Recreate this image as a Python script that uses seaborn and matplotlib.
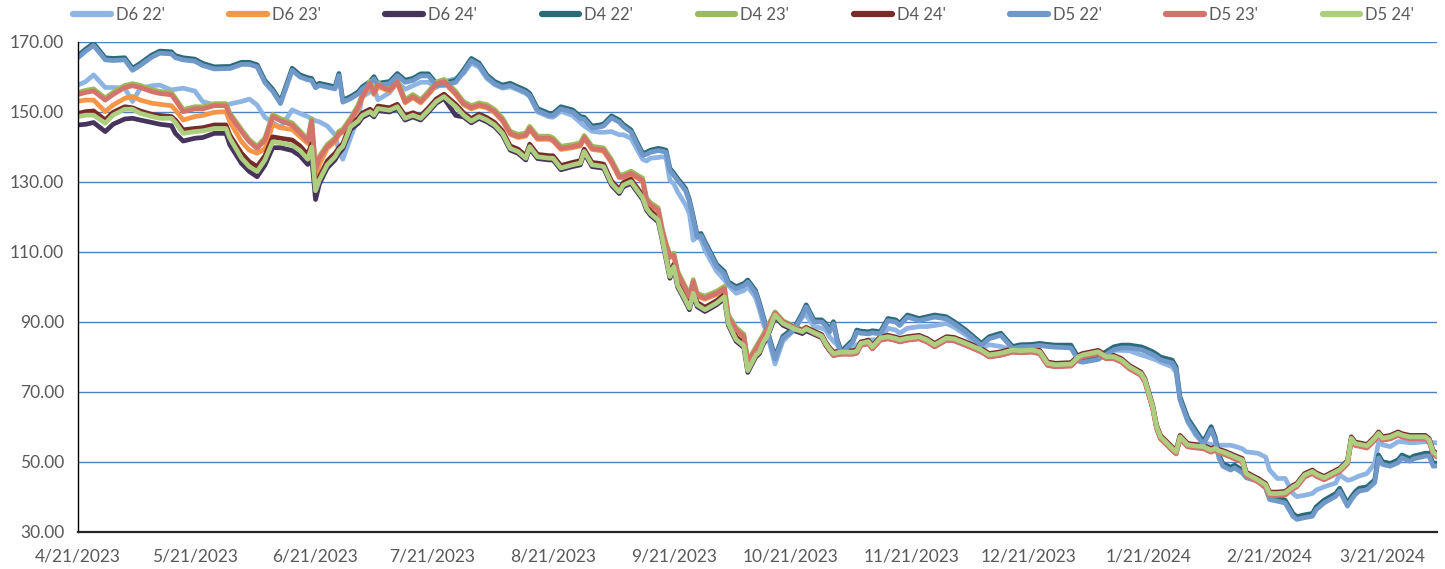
import pandas as pd
import matplotlib.pyplot as plt
import seaborn as sns
from matplotlib.ticker import FormatStrFormatter

# --- Donnees ---
dates = [
    "2023-04-21", "2023-04-23", "2023-04-25", "2023-04-28", "2023-04-30", "2023-05-03", "2023-05-05", "2023-05-07",
    "2023-05-10", "2023-05-12", "2023-05-15", "2023-05-16", "2023-05-18", "2023-05-21", "2023-05-23", "2023-05-26",
    "2023-05-29", "2023-05-30", "2023-06-02", "2023-06-04", "2023-06-06",
    "2023-06-08", "2023-06-10", "2023-06-12", "2023-06-15", "2023-06-17", "2023-06-19", "2023-06-20", "2023-06-21",
    "2023-06-22", "2023-06-24", "2023-06-26", "2023-06-27", "2023-06-28", "2023-06-30",
    "2023-07-02", "2023-07-03", "2023-07-05", "2023-07-06", "2023-07-07", "2023-07-10", "2023-07-12", "2023-07-14",
    "2023-07-16", "2023-07-18", "2023-07-20",
    "2023-07-22", "2023-07-24", "2023-07-27", "2023-07-29", "2023-07-31", "2023-08-02", "2023-08-04", "2023-08-06",
    "2023-08-08", "2023-08-10", "2023-08-12", "2023-08-14", "2023-08-15", "2023-08-17", "2023-08-20", "2023-08-21",
    "2023-08-23", "2023-08-26", "2023-08-28", "2023-08-29", "2023-08-31",
    "2023-09-02", "2023-09-03", "2023-09-05", "2023-09-07", "2023-09-08", "2023-09-10", "2023-09-13", "2023-09-14",
    "2023-09-15", "2023-09-17", "2023-09-18", "2023-09-19", "2023-09-20", "2023-09-21", "2023-09-22", "2023-09-24",
    "2023-09-25", "2023-09-26", "2023-09-27", "2023-09-28", "2023-09-29",
    "2023-10-02", "2023-10-04", "2023-10-05", "2023-10-07", "2023-10-09", "2023-10-10", "2023-10-12", "2023-10-13",
    "2023-10-14", "2023-10-15", "2023-10-17", "2023-10-19", "2023-10-22", "2023-10-24", "2023-10-25", "2023-10-27",
    "2023-10-29", "2023-10-30", "2023-10-31",
    "2023-11-01", "2023-11-02", "2023-11-03", "2023-11-06", "2023-11-07", "2023-11-08", "2023-11-10", "2023-11-11",
    "2023-11-13", "2023-11-15", "2023-11-17", "2023-11-18", "2023-11-20", "2023-11-23", "2023-11-25", "2023-11-27",
    "2023-11-30", "2023-12-02", "2023-12-05", "2023-12-09", "2023-12-11", "2023-12-14", "2023-12-17", "2023-12-19",
    "2023-12-22", "2023-12-24", "2023-12-26", "2023-12-28",
    "2024-01-01", "2024-01-03", "2024-01-04", "2024-01-08", "2024-01-10", "2024-01-12", "2024-01-14", "2024-01-16",
    "2024-01-19", "2024-01-20", "2024-01-22", "2024-01-23", "2024-01-24", "2024-01-27", "2024-01-28", "2024-01-29",
    "2024-01-31",
    "2024-02-02", "2024-02-04", "2024-02-06", "2024-02-07", "2024-02-08", "2024-02-09", "2024-02-11", "2024-02-12",
    "2024-02-14", "2024-02-15", "2024-02-18", "2024-02-20", "2024-02-21", "2024-02-23", "2024-02-25", "2024-02-27",
    "2024-02-28", "2024-03-01", "2024-03-03", "2024-03-04", "2024-03-06", "2024-03-09", "2024-03-10", "2024-03-12",
    "2024-03-13", "2024-03-14", "2024-03-15", "2024-03-17", "2024-03-19", "2024-03-20", "2024-03-21", "2024-03-23",
    "2024-03-25", "2024-03-26", "2024-03-28", "2024-03-29", "2024-04-01", "2024-04-02", "2024-04-03", "2024-04-04",
]

d6_22 = [
    157.7, 158.7, 160.6, 157.0, 157.0, 156.8, 153.0, 156.8, 157.5, 157.7, 156.3, 156.5, 156.8, 156.0, 153.0, 152.0,
    151.8, 152.3, 153.0, 153.7, 152.0,
    148.5, 147.0, 145.5, 150.6, 149.6, 148.7, 148.0, 147.5, 147.2, 146.0, 143.5, 139.0, 136.5, 142.7,
    148.7, 154.3, 155.8, 157.0, 153.5, 155.5, 158.5, 156.5, 157.5, 158.5, 158.5,
    157.0, 158.7, 159.5, 161.0, 164.0, 162.8, 159.6, 157.8, 156.8, 157.2, 156.3, 155.3, 154.4, 150.0, 148.6, 148.5,
    150.2, 149.0, 147.0, 146.0, 144.5,
    144.2, 144.2, 144.4, 143.5, 143.5, 142.5, 136.5, 136.0, 136.8, 137.0, 137.2, 137.0, 130.5, 129.5, 127.2, 123.5,
    121.0, 113.4, 114.4, 113.5, 110.5,
    104.5, 102.0, 100.5, 98.2, 99.0, 100.1, 97.0, 93.5, 89.6, 86.5, 78.0, 84.5, 87.8, 91.5, 92.0, 88.7,
    88.2, 87.7, 85.8,
    84.5, 83.5, 81.1, 82.5, 83.5, 84.0, 84.9, 84.9, 84.9, 88.2, 87.7, 86.8, 88.2, 88.7, 88.7, 89.0,
    89.6, 88.5, 86.3, 82.5, 83.5, 83.0, 82.0, 83.0, 83.2, 83.4, 83.2, 83.0,
    83.0, 79.6, 79.1, 79.6, 80.6, 81.9, 81.9, 81.8, 80.6, 80.3, 79.5, 79.1, 78.5, 77.2, 75.5, 68.0, 61.5,
    57.7, 55.5, 55.0, 54.8, 54.8, 54.8, 54.8, 54.5, 53.8, 52.9, 52.5, 51.4, 47.7, 45.3, 45.3, 41.0,
    40.1, 40.5, 41.0, 42.0, 42.9, 44.0, 46.3, 44.8, 45.0, 45.5, 46.0, 46.7, 49.6, 55.8, 54.9, 54.4,
    55.8, 55.8, 55.5, 55.5, 55.8, 55.8, 55.5, 55.5,
]

d6_23 = [
    153.1, 153.4, 153.4, 150.1, 152.0, 153.9, 154.4, 153.4, 152.5, 152.2, 151.8, 150.6, 147.7, 148.7, 149.0, 149.9,
    150.1, 147.2, 141.5, 139.1, 138.2,
    139.5, 146.4, 145.5, 145.0, 143.0, 141.0, 145.0, 131.5, 135.0, 139.6, 141.5, 143.5, 144.2, 147.3,
    151.2, 154.0, 157.8, 155.0, 157.3, 155.9, 158.3, 152.6, 154.1, 152.6, 155.0,
    157.7, 158.4, 155.0, 152.1, 150.9, 151.7, 151.2, 149.8, 147.4, 143.6, 142.7, 143.1, 145.0, 142.2, 142.2, 141.7,
    139.3, 139.8, 140.3, 142.4, 139.3,
    139.0, 138.8, 135.5, 131.2, 131.2, 132.2, 130.2, 124.6, 123.2, 121.7, 116.0, 111.7, 108.4, 108.8, 103.6, 99.2,
    96.9, 101.2, 97.4, 96.9, 96.5,
    97.9, 99.3, 91.2, 87.5, 85.6, 78.0, 81.8, 83.7, 85.6, 87.7, 92.2, 89.8, 88.1, 87.2, 88.0, 86.8,
    85.8, 83.6, 81.9,
    80.6, 80.8, 81.0, 81.0, 81.3, 83.5, 84.0, 82.5, 85.0, 85.4, 84.9, 84.5, 85.0, 85.4, 84.5, 83.1,
    85.0, 84.8, 83.5, 81.6, 80.2, 80.7, 81.6, 81.4, 81.6, 81.1, 77.8, 77.4,
    77.6, 79.7, 80.2, 81.1, 79.7, 79.7, 78.7, 76.8, 74.9, 73.0, 65.4, 59.7, 56.8, 53.5, 52.5, 56.8, 54.5,
    54.2, 54.0, 53.0, 53.5, 52.8, 52.5, 51.6, 51.1, 50.2, 46.3, 44.5, 42.5, 39.5, 39.8, 40.5, 42.5,
    43.1, 45.9, 46.9, 46.1, 45.1, 46.8, 47.4, 49.6, 56.4, 54.9, 54.7, 54.2, 56.4, 57.8, 56.4, 56.8,
    57.8, 57.3, 56.8, 56.8, 56.8, 55.9, 52.5, 51.6,
]

d6_24 = [
    146.3, 146.5, 147.0, 144.4, 146.5, 148.0, 148.2, 147.7, 147.0, 146.5, 146.1, 143.9, 141.7, 142.5, 142.7, 143.9,
    143.9, 140.6, 135.3, 133.0, 131.5,
    134.8, 139.8, 139.8, 139.0, 137.5, 135.0, 137.0, 125.0, 129.5, 134.0, 136.3, 138.2, 139.5, 145.0,
    146.8, 148.4, 149.6, 148.6, 150.4, 150.0, 151.0, 147.7, 148.6, 147.7, 150.0,
    152.5, 153.9, 149.0, 148.6, 146.9, 148.2, 147.2, 145.8, 143.4, 139.1, 138.2, 136.3, 139.6, 136.7, 136.3, 136.3,
    133.5, 134.4, 134.9, 138.2, 134.4,
    134.1, 133.9, 129.1, 126.7, 128.6, 129.6, 125.0, 122.0, 120.5, 118.6, 113.5, 108.0, 102.5, 105.3, 100.0, 95.8,
    93.5, 97.7, 94.4, 93.7, 93.0,
    94.9, 96.7, 89.1, 84.5, 82.7, 75.6, 79.9, 81.0, 83.7, 85.5, 91.5, 89.1, 87.5, 86.7, 87.5, 86.5,
    85.5, 83.4, 81.8,
    80.5, 80.7, 80.9, 80.9, 81.2, 83.4, 83.9, 82.4, 84.9, 85.3, 84.8, 84.4, 84.9, 85.3, 84.4, 83.0,
    84.9, 84.7, 83.4, 81.5, 80.1, 80.6, 81.5, 81.3, 81.5, 81.0, 77.7, 77.3,
    77.6, 79.7, 80.2, 81.1, 79.7, 79.7, 78.7, 76.8, 74.9, 73.0, 65.4, 59.7, 56.8, 53.5, 52.5, 56.8, 54.5,
    54.2, 54.0, 53.0, 53.5, 52.8, 52.5, 51.6, 51.1, 50.2, 46.3, 44.5, 43.1, 40.6, 40.6, 40.8, 42.5,
    43.1, 45.9, 46.9, 46.1, 45.1, 46.8, 47.4, 49.6, 56.4, 54.9, 54.7, 54.2, 56.4, 57.8, 56.4, 56.8,
    57.8, 57.3, 56.8, 56.8, 56.8, 55.9, 52.5, 51.6,
]

d4_22 = [
    166.1, 168.0, 169.6, 165.5, 165.3, 165.5, 162.5, 163.9, 166.3, 167.4, 167.2, 166.1, 165.5, 165.1, 163.9, 162.9,
    163.0, 163.0, 164.2, 164.2, 163.5,
    159.0, 156.5, 153.0, 162.5, 160.6, 159.8, 159.6, 157.5, 158.2, 157.7, 157.2, 161.0, 153.4, 154.4,
    155.8, 157.2, 158.7, 160.1, 158.2, 158.7, 161.0, 159.1, 159.6, 160.9, 160.9,
    158.2, 158.2, 159.1, 162.0, 165.3, 164.0, 160.6, 158.7, 157.7, 158.2, 157.2, 156.2, 155.3, 151.0, 149.6, 149.6,
    151.5, 150.6, 148.7, 148.5, 146.0,
    146.3, 146.6, 148.9, 147.7, 146.5, 144.9, 138.2, 138.5, 139.1, 139.6, 139.4, 139.1, 133.9, 132.5, 131.0, 128.2,
    125.0, 120.1, 114.9, 115.3, 113.0,
    106.5, 104.4, 101.5, 100.1, 101.0, 102.0, 99.0, 95.5, 91.5, 87.7, 80.0, 85.9, 88.5, 92.5, 94.9, 90.6,
    90.6, 89.6, 87.7,
    90.1, 84.9, 81.6, 84.9, 87.7, 87.4, 87.2, 87.5, 87.2, 91.0, 90.6, 89.6, 92.0, 91.0, 91.5, 92.0,
    91.5, 90.1, 87.7, 83.9, 85.8, 86.8, 83.0, 83.5, 83.6, 83.9, 83.6, 83.4,
    83.4, 79.6, 79.3, 80.1, 81.5, 82.9, 83.4, 83.4, 82.9, 82.5, 81.5, 80.8, 80.0, 79.1, 77.2, 68.6, 62.5,
    59.1, 55.8, 60.1, 57.2, 52.0, 49.6, 48.5, 49.1, 47.7, 46.3, 45.3, 43.4, 40.1, 39.6, 39.1, 35.3,
    34.4, 34.9, 35.3, 37.2, 39.1, 41.0, 42.5, 38.2, 40.0, 41.5, 42.5, 42.9, 44.9, 52.0, 50.1, 49.6,
    50.6, 52.0, 51.0, 51.7, 52.5, 52.5, 49.6, 49.7,
]

d4_23 = [
    155.6, 156.2, 156.6, 154.0, 155.6, 157.6, 158.1, 157.6, 156.4, 155.9, 155.5, 154.0, 150.7, 151.5, 151.5, 152.4,
    152.4, 149.7, 145.0, 142.1, 140.2,
    142.6, 149.3, 148.1, 146.9, 144.6, 142.2, 148.1, 134.1, 137.4, 140.7, 142.6, 144.5, 145.1, 148.3,
    152.1, 155.0, 158.8, 155.9, 158.3, 156.8, 159.2, 153.5, 155.0, 153.5, 155.9,
    158.6, 159.3, 155.9, 153.0, 151.8, 152.6, 152.1, 150.7, 148.3, 144.5, 143.6, 144.0, 145.9, 143.1, 143.1, 142.6,
    140.2, 140.7, 141.2, 143.3, 140.2,
    139.9, 139.7, 136.4, 132.1, 132.1, 133.1, 131.1, 125.5, 124.1, 122.6, 116.9, 112.6, 109.3, 109.7, 104.5, 100.1,
    97.8, 102.1, 98.3, 97.8, 97.4,
    98.8, 100.2, 92.1, 88.4, 86.5, 78.9, 82.7, 84.6, 86.5, 88.6, 92.9, 90.4, 88.7, 87.8, 88.6, 87.2,
    86.2, 84.1, 82.4,
    81.1, 81.3, 81.5, 81.5, 81.8, 84.0, 84.5, 83.0, 85.5, 85.9, 85.4, 85.0, 85.5, 85.9, 85.0, 83.6,
    85.5, 85.3, 84.0, 82.1, 80.7, 81.2, 82.1, 81.9, 82.1, 81.6, 78.3, 77.9,
    78.1, 80.2, 80.7, 81.6, 80.2, 80.2, 79.2, 77.3, 75.4, 73.5, 65.9, 60.2, 57.3, 54.0, 53.0, 57.3, 55.0,
    54.7, 54.5, 53.5, 54.0, 53.3, 53.0, 52.1, 51.6, 50.7, 46.8, 45.0, 43.6, 41.1, 41.1, 41.3, 43.0,
    43.6, 46.4, 47.4, 46.6, 45.6, 47.3, 47.9, 50.1, 56.9, 55.4, 55.2, 54.7, 56.9, 58.3, 56.9, 57.3,
    58.3, 57.8, 57.3, 57.3, 57.3, 56.4, 53.0, 52.1,
]

d4_24 = [
    149.6, 150.1, 150.3, 147.7, 149.9, 151.5, 151.2, 150.3, 149.3, 149.0, 148.7, 147.7, 144.9, 145.3, 145.5, 146.3,
    146.3, 143.4, 138.2, 135.8, 134.4,
    137.5, 142.9, 142.5, 142.0, 140.3, 137.8, 141.0, 128.5, 131.5, 136.0, 138.2, 139.8, 141.0, 146.5,
    148.2, 149.7, 150.8, 149.8, 151.7, 151.2, 152.2, 148.9, 149.8, 148.9, 151.2,
    153.7, 155.1, 152.2, 149.8, 148.1, 149.4, 148.4, 147.0, 144.6, 140.3, 139.4, 137.5, 140.8, 137.9, 137.5, 137.5,
    134.7, 135.6, 136.1, 139.4, 135.6,
    135.3, 135.1, 130.3, 127.9, 129.8, 130.8, 126.2, 123.2, 121.7, 119.8, 114.7, 109.2, 103.7, 106.5, 101.2, 97.0,
    94.7, 98.9, 95.6, 94.9, 94.2,
    96.1, 97.9, 90.3, 85.7, 83.9, 76.8, 81.1, 82.2, 84.9, 86.7, 92.4, 90.0, 88.4, 87.6, 88.4, 87.4,
    86.4, 84.3, 82.7,
    81.4, 81.6, 81.8, 81.8, 82.1, 84.3, 84.8, 83.3, 85.8, 86.2, 85.7, 85.3, 85.8, 86.2, 85.3, 83.9,
    85.8, 85.6, 84.3, 82.4, 81.0, 81.5, 82.4, 82.2, 82.4, 81.9, 78.6, 78.2,
    78.4, 80.5, 81.0, 81.9, 80.5, 80.5, 79.5, 77.6, 75.7, 73.8, 66.2, 60.5, 57.6, 54.3, 53.3, 57.6, 55.3,
    55.0, 54.8, 53.8, 54.3, 53.6, 53.3, 52.4, 51.9, 51.0, 47.1, 45.3, 43.9, 41.4, 41.4, 41.6, 43.3,
    43.9, 46.7, 47.7, 46.9, 45.9, 47.6, 48.2, 50.4, 57.2, 55.7, 55.5, 55.0, 57.2, 58.6, 57.2, 57.6,
    58.6, 58.1, 57.6, 57.6, 57.6, 56.7, 53.3, 52.4,
]

d5_22 = [
    165.5, 167.4, 169.0, 164.9, 164.7, 164.9, 161.9, 163.3, 165.7, 166.8, 166.6, 165.5, 164.9, 164.5, 163.3, 162.3,
    162.4, 162.4, 163.6, 163.6, 162.9,
    158.4, 155.9, 152.4, 161.9, 160.0, 159.2, 159.0, 156.9, 157.6, 157.1, 156.6, 160.4, 152.8, 153.8,
    155.2, 156.6, 158.1, 159.5, 157.6, 158.1, 160.4, 158.5, 159.0, 160.3, 160.3,
    157.6, 157.6, 158.5, 161.4, 164.7, 163.4, 160.0, 158.1, 157.1, 157.6, 156.6, 155.6, 154.7, 150.4, 149.0, 149.0,
    150.9, 150.0, 148.1, 147.9, 145.4,
    145.7, 146.0, 148.3, 147.1, 145.9, 144.3, 137.6, 137.9, 138.5, 139.0, 138.8, 138.5, 133.3, 131.9, 130.4, 127.6,
    124.4, 119.5, 114.3, 114.7, 112.4,
    105.9, 103.8, 100.9, 99.5, 100.4, 101.4, 98.4, 94.9, 90.9, 87.1, 79.4, 85.3, 87.9, 91.9, 94.3, 90.0,
    90.0, 89.0, 87.1,
    89.5, 84.3, 81.0, 84.3, 87.1, 86.8, 86.6, 86.9, 86.6, 90.4, 90.0, 89.0, 91.4, 90.4, 90.9, 91.4,
    90.9, 89.5, 87.1, 83.3, 85.2, 86.2, 82.4, 82.9, 83.0, 83.3, 83.0, 82.8,
    82.6, 78.8, 78.5, 79.3, 80.7, 82.1, 82.6, 82.6, 82.1, 81.7, 80.7, 80.0, 79.2, 78.3, 76.4, 67.8, 61.7,
    58.3, 55.0, 59.3, 56.4, 51.2, 48.8, 47.7, 48.3, 46.9, 45.5, 44.5, 42.6, 39.3, 38.8, 38.3, 34.5,
    33.6, 34.1, 34.5, 36.4, 38.3, 40.2, 41.7, 37.4, 39.2, 40.7, 41.7, 42.1, 44.1, 51.2, 49.3, 48.8,
    49.8, 51.2, 50.2, 50.9, 51.7, 51.7, 48.8, 48.9,
]

d5_23 = [
    155.0, 155.6, 156.0, 153.4, 155.0, 157.0, 157.5, 157.0, 155.8, 155.3, 154.9, 153.4, 150.1, 150.9, 150.9, 151.8,
    151.8, 149.1, 144.4, 141.5, 139.6,
    142.0, 148.7, 147.5, 146.3, 144.0, 141.6, 147.5, 133.5, 136.8, 140.1, 142.0, 143.9, 144.5, 147.7,
    151.5, 154.4, 158.2, 155.3, 157.7, 156.2, 158.6, 152.9, 154.4, 152.9, 155.3,
    158.0, 158.7, 155.3, 152.4, 151.2, 152.0, 151.5, 150.1, 147.7, 143.9, 143.0, 143.4, 145.3, 142.5, 142.5, 142.0,
    139.6, 140.1, 140.6, 142.7, 139.6,
    139.3, 139.1, 135.8, 131.5, 131.5, 132.5, 130.5, 124.9, 123.5, 122.0, 116.3, 112.0, 108.7, 109.1, 103.9, 99.5,
    97.2, 101.5, 97.7, 97.2, 96.8,
    98.2, 99.6, 91.5, 87.8, 85.9, 78.3, 82.1, 84.0, 85.9, 88.0, 92.5, 90.0, 88.3, 87.4, 88.2, 86.8,
    85.8, 83.7, 82.0,
    80.4, 80.6, 80.8, 80.8, 81.1, 83.3, 83.8, 82.3, 84.8, 85.2, 84.7, 84.3, 84.8, 85.2, 84.3, 82.9,
    84.8, 84.6, 83.3, 81.4, 80.0, 80.5, 81.4, 81.2, 81.4, 80.9, 77.6, 77.2,
    77.4, 79.5, 80.0, 80.9, 79.5, 79.5, 78.5, 76.6, 74.7, 72.8, 65.2, 59.5, 56.6, 53.3, 52.3, 56.6, 54.3,
    54.0, 53.8, 52.8, 53.3, 52.6, 52.3, 51.4, 50.9, 50.0, 46.1, 44.3, 42.9, 40.4, 40.4, 40.6, 42.3,
    42.9, 45.7, 46.7, 45.9, 44.9, 46.6, 47.2, 49.4, 56.2, 54.7, 54.5, 54.0, 56.2, 57.6, 56.2, 56.6,
    57.6, 57.1, 56.6, 56.6, 56.6, 55.7, 52.3, 51.4,
]

d5_24 = [
    148.7, 149.1, 149.1, 146.8, 149.1, 150.8, 150.8, 149.6, 148.7, 148.2, 148.2, 147.0, 143.9, 144.4, 144.6, 145.3,
    145.3, 142.5, 136.8, 134.4, 133.0,
    136.3, 141.5, 141.2, 140.5, 139.0, 136.5, 140.0, 127.5, 130.6, 134.9, 137.2, 139.1, 140.2, 145.8,
    147.5, 149.0, 150.1, 149.1, 151.0, 150.5, 151.5, 148.2, 149.1, 148.2, 150.5,
    153.0, 154.4, 151.5, 149.1, 147.4, 148.7, 147.7, 146.3, 143.9, 139.6, 138.7, 136.8, 140.1, 137.2, 136.8, 136.8,
    134.0, 134.9, 135.4, 138.7, 134.9,
    134.6, 134.4, 129.6, 127.2, 129.1, 130.1, 125.5, 122.5, 121.0, 119.1, 114.0, 108.5, 103.0, 105.8, 100.5, 96.3,
    94.0, 98.2, 94.9, 94.2, 93.5,
    95.4, 97.2, 89.6, 85.0, 83.2, 76.1, 80.4, 81.5, 84.2, 86.0, 92.0, 89.6, 88.0, 87.2, 88.0, 87.0,
    86.0, 83.9, 82.3,
    81.0, 81.2, 81.4, 81.4, 81.7, 83.9, 84.4, 82.9, 85.4, 85.8, 85.3, 84.9, 85.4, 85.8, 84.9, 83.5,
    85.4, 85.2, 83.9, 82.0, 80.6, 81.1, 82.0, 81.8, 82.0, 81.5, 78.2, 77.8,
    78.0, 80.1, 80.6, 81.5, 80.1, 80.1, 79.1, 77.2, 75.3, 73.4, 65.8, 60.1, 57.2, 53.9, 52.9, 57.2, 54.9,
    54.6, 54.4, 53.4, 53.9, 53.2, 52.9, 52.0, 51.5, 50.6, 46.7, 44.9, 43.5, 41.0, 41.0, 41.2, 42.9,
    43.5, 46.3, 47.3, 46.5, 45.5, 47.2, 47.8, 50.0, 56.8, 55.3, 55.1, 54.6, 56.8, 58.2, 56.8, 57.2,
    58.2, 57.7, 57.2, 57.2, 57.2, 56.3, 52.9, 52.0,
]

tick_labels = ["4/21/2023", "5/21/2023", "6/21/2023", "7/21/2023", "8/21/2023", "9/21/2023",
               "10/21/2023", "11/21/2023", "12/21/2023", "1/21/2024", "2/21/2024", "3/21/2024"]
y_ticks = [30, 50, 70, 90, 110, 130, 150, 170]

SERIES = {
    "D6 22'": d6_22, "D6 23'": d6_23, "D6 24'": d6_24,
    "D4 22'": d4_22, "D4 23'": d4_23, "D4 24'": d4_24,
    "D5 22'": d5_22, "D5 23'": d5_23, "D5 24'": d5_24,
}
COULEURS = {
    "D6 22'": "#8DB4E2", "D6 23'": "#F79646", "D6 24'": "#46345C",
    "D4 22'": "#2B6A78", "D4 23'": "#9BBB59", "D4 24'": "#772C2A",
    "D5 22'": "#7099C9", "D5 23'": "#D4726C", "D5 24'": "#ADCE7F",
}

for nom, vals in SERIES.items():
    if len(vals) != len(dates):
        print(f"[Erreur] {nom}: {len(vals)} valeurs pour {len(dates)} dates")

sns.set_theme(style="white")
plt.rcParams['font.family'] = ['Lato', 'DejaVu Sans']
GRIS = "#595959"

df = pd.DataFrame({"Date": pd.to_datetime(dates), **SERIES})
df_long = df.melt(id_vars="Date", var_name="Serie", value_name="Valeur")

W, H = 1445, 569
fig = plt.figure(figsize=(W / 100, H / 100), dpi=100)
ax = fig.add_axes([78 / W, 37 / H, (1437 - 78) / W, 490 / H])

sns.lineplot(data=df_long, x="Date", y="Valeur", hue="Serie", hue_order=list(SERIES),
             palette=COULEURS, linewidth=3.4, estimator=None, errorbar=None, ax=ax,
             solid_joinstyle="round", solid_capstyle="round")

ax.set_xlim(pd.Timestamp("2023-04-21"), pd.Timestamp("2024-04-04"))
ax.set_ylim(30, 170)
ax.set_yticks(y_ticks)
ax.yaxis.set_major_formatter(FormatStrFormatter("%.2f"))
ax.set_xticks(pd.to_datetime(tick_labels, format="%m/%d/%Y"))
ax.set_xticklabels(tick_labels)
ax.set_xlabel("")
ax.set_ylabel("")

ax.set_axisbelow(True)
ax.yaxis.grid(True, color="#4F81BD", linewidth=1.0)
ax.xaxis.grid(False)
for s in ["top", "right"]:
    ax.spines[s].set_visible(False)
ax.spines["left"].set_color("black")
ax.spines["left"].set_linewidth(1.0)
ax.spines["bottom"].set_color("#262626")
ax.spines["bottom"].set_linewidth(1.6)
ax.tick_params(axis="x", direction="out", length=6, width=1.2, color="black",
               labelsize=12.5, labelcolor=GRIS, pad=6)
ax.tick_params(axis="y", length=0, labelsize=12.5, labelcolor=GRIS, pad=10)

# legende sur une ligne en haut
handles, labels = ax.get_legend_handles_labels()
ax.legend_.remove()
leg = fig.legend(handles, labels, loc="center left", ncol=9,
                 bbox_to_anchor=(73 / W, 1 - 15 / H), frameon=False,
                 fontsize=12, handlelength=2.26, handletextpad=0.3, columnspacing=3.88,
                 borderpad=0, borderaxespad=0)
for t in leg.get_texts():
    t.set_color(GRIS)
for l in leg.get_lines():
    l.set_linewidth(4.5)
    l.set_solid_capstyle("round")

fig.savefig("out.png", dpi=100)
